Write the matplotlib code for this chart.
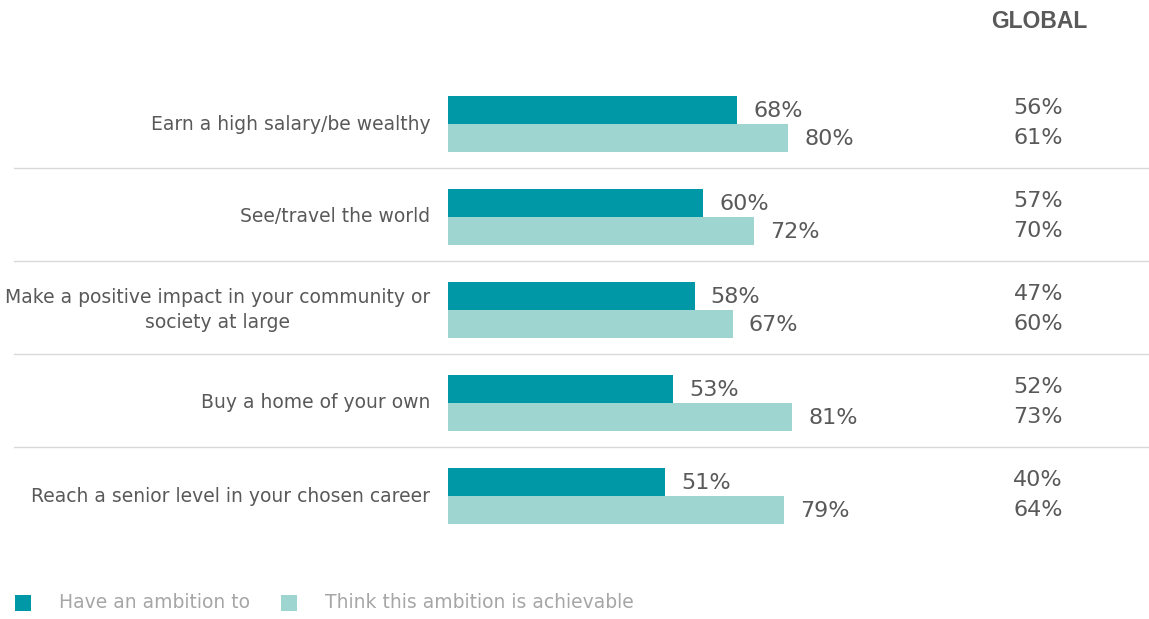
import matplotlib.pyplot as plt
from matplotlib.patches import Rectangle

# Survey results: share with each ambition vs share thinking it achievable
categories = [
    "Earn a high salary/be wealthy",
    "See/travel the world",
    "Make a positive impact in your community or\nsociety at large",
    "Buy a home of your own",
    "Reach a senior level in your chosen career",
]
have_ambition = [68, 60, 58, 53, 51]
achievable = [80, 72, 67, 81, 79]
global_ambition = [56, 57, 47, 52, 40]
global_achievable = [61, 70, 60, 73, 64]
series_names = ["Have an ambition to", "Think this ambition is achievable"]

DARK = "#0097a7"
LIGHT = "#9fd5d0"
TEXT = "#595959"
LEGEND_TEXT = "#a6a6a6"
RULE = "#d9d9d9"

W, H = 1149, 619
fig = plt.figure(figsize=(W / 100, H / 100), dpi=100)
fig.patch.set_facecolor("white")

# bar area: zero at x=448px, 4.25 px per percentage point
ax = fig.add_axes([448 / W, (H - 542.5) / H, 425 / W, 465 / H])
ax.set_xlim(0, 100)
ax.set_ylim(len(categories) - 0.5, -0.5)
ax.axis("off")

bh = 0.30
ys = list(range(len(categories)))
ax.barh([y - bh / 2 for y in ys], have_ambition, height=bh, color=DARK)
ax.barh([y + bh / 2 for y in ys], achievable, height=bh, color=LIGHT)

ytrans = ax.get_yaxis_transform()
for y, cat, a, b, ga, gb in zip(ys, categories, have_ambition, achievable,
                                global_ambition, global_achievable):
    ax.text(a + 3.8, y - bh / 2 + 0.01, f"{a}%", ha="left", va="center",
            fontsize=16, color=TEXT)
    ax.text(b + 3.8, y + bh / 2 + 0.01, f"{b}%", ha="left", va="center",
            fontsize=16, color=TEXT)
    ax.text(-0.042, y, cat, transform=ytrans, ha="right", va="center",
            multialignment="center", linespacing=1.35, fontsize=13.5, color=TEXT)
    ax.text(1.447, y - bh / 2 - 0.02, f"{ga}%", transform=ytrans, ha="right",
            va="center", fontsize=16, color=TEXT)
    ax.text(1.447, y + bh / 2, f"{gb}%", transform=ytrans, ha="right",
            va="center", fontsize=16, color=TEXT)

# thin rules between groups, running across the whole row
for y in ys[:-1]:
    ax.axhline(y + 0.475, xmin=(14 - 448) / 425, xmax=(W - 448) / 425,
               color=RULE, linewidth=1, clip_on=False)

fig.text(1039 / W, 1 - 21 / H, "GLOBAL", ha="center", va="center",
         fontsize=16.5, fontweight="bold", family=["Liberation Sans", "DejaVu Sans"],
         color=TEXT)

# legend
for sx, tx, color, name in [(15, 59, DARK, series_names[0]),
                            (281, 325, LIGHT, series_names[1])]:
    fig.patches.append(Rectangle((sx / W, 1 - 611 / H), 16 / W, 16 / H,
                                 transform=fig.transFigure, facecolor=color,
                                 edgecolor="none"))
    fig.text(tx / W, 1 - 603 / H, name, ha="left", va="center",
             fontsize=13.5, color=LEGEND_TEXT)

fig.savefig("out.png", dpi=100, facecolor="white")
